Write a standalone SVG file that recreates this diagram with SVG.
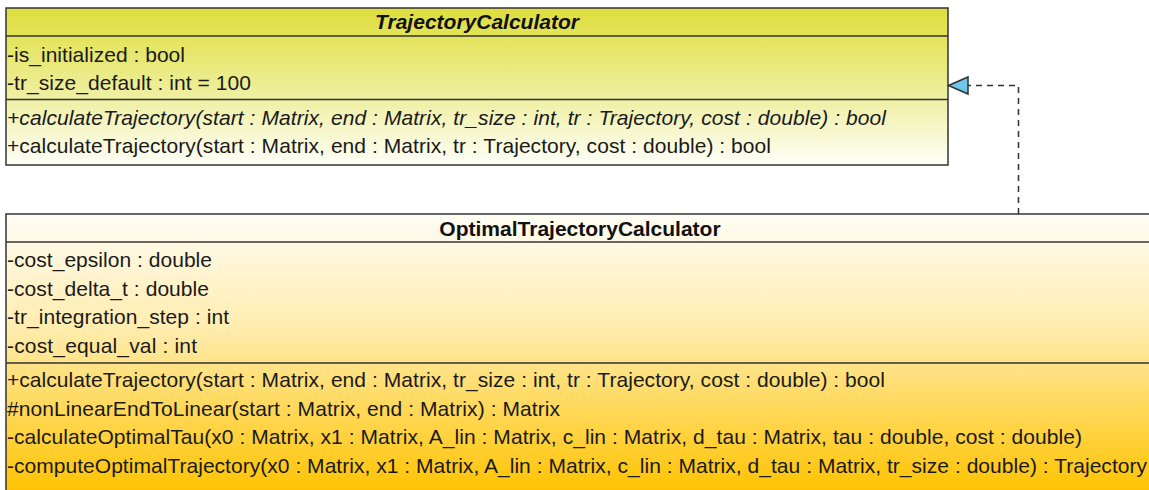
<svg xmlns="http://www.w3.org/2000/svg" width="1149" height="490" viewBox="0 0 1149 490">
  <style>
    .box { stroke: #333333; stroke-width: 1.5; }
    .sep { stroke: #333333; stroke-width: 1.5; fill: none; }
    .t { font-family: "Liberation Sans", Arial, sans-serif; font-size: 21px; fill: #1a1a1a; }
    .title { font-family: "Liberation Sans", Arial, sans-serif; font-size: 21px; font-weight: bold; fill: #111111; text-anchor: middle; }
    .it { font-style: italic; }
    .dash { stroke: #333333; stroke-width: 1.5; fill: none; stroke-dasharray: 6 5; }
  </style>
  <defs>
    <linearGradient id="gTop" x1="0" y1="0" x2="0" y2="1">
      <stop offset="0" stop-color="#DEDE3E"/>
      <stop offset="0.2" stop-color="#E4E45E"/>
      <stop offset="0.6" stop-color="#F0F0A8"/>
      <stop offset="1" stop-color="#FFFFF8"/>
    </linearGradient>
    <linearGradient id="gBot" x1="0" y1="0" x2="0" y2="1">
      <stop offset="0" stop-color="#FFFDF5"/>
      <stop offset="0.4" stop-color="#FFEDB0"/>
      <stop offset="1" stop-color="#FFC300"/>
    </linearGradient>
  </defs>
  <rect width="1149" height="490" fill="#FFFFFF"/>

  <g id="TrajectoryCalculator">
    <rect class="box" x="6" y="8" width="942" height="157" fill="url(#gTop)"/>
    <line class="sep" x1="6" y1="36" x2="948" y2="36"/>
    <line class="sep" x1="6" y1="99.5" x2="948" y2="99.5"/>
    <text class="title it" x="477" y="29">TrajectoryCalculator</text>
    <text class="t" x="7" y="61.5" textLength="178">-is_initialized : bool</text>
    <text class="t" x="7" y="90" textLength="244">-tr_size_default : int = 100</text>
    <text class="t it" x="7" y="124.5" textLength="879">+calculateTrajectory(start : Matrix, end : Matrix, tr_size : int, tr : Trajectory, cost : double) : bool</text>
    <text class="t" x="7" y="153" textLength="764">+calculateTrajectory(start : Matrix, end : Matrix, tr : Trajectory, cost : double) : bool</text>
  </g>

  <g id="OptimalTrajectoryCalculator">
    <rect class="box" x="6" y="214" width="1148" height="280" fill="url(#gBot)"/>
    <line class="sep" x1="6" y1="242" x2="1154" y2="242"/>
    <line class="sep" x1="6" y1="363" x2="1154" y2="363"/>
    <text class="title" x="580" y="235.5">OptimalTrajectoryCalculator</text>
    <text class="t" x="7" y="267" textLength="205">-cost_epsilon : double</text>
    <text class="t" x="7" y="295.5" textLength="202">-cost_delta_t : double</text>
    <text class="t" x="7" y="324" textLength="222">-tr_integration_step : int</text>
    <text class="t" x="7" y="352.5" textLength="190">-cost_equal_val : int</text>
    <text class="t" x="7" y="387" textLength="878">+calculateTrajectory(start : Matrix, end : Matrix, tr_size : int, tr : Trajectory, cost : double) : bool</text>
    <text class="t" x="7" y="415.5" textLength="553">#nonLinearEndToLinear(start : Matrix, end : Matrix) : Matrix</text>
    <text class="t" x="7" y="444" textLength="1075">-calculateOptimalTau(x0 : Matrix, x1 : Matrix, A_lin : Matrix, c_lin : Matrix, d_tau : Matrix, tau : double, cost : double)</text>
    <text class="t" x="7" y="472.5" textLength="1140">-computeOptimalTrajectory(x0 : Matrix, x1 : Matrix, A_lin : Matrix, c_lin : Matrix, d_tau : Matrix, tr_size : double) : Trajectory</text>
  </g>

  <g id="connectors">
    <path class="dash" d="M1018.5,214 L1018.5,85.5 L968,85.5"/>
    <polygon points="948.5,85.5 968,77 968,94" fill="#6EC6EE" stroke="#333333" stroke-width="1.5"/>
  </g>
</svg>
